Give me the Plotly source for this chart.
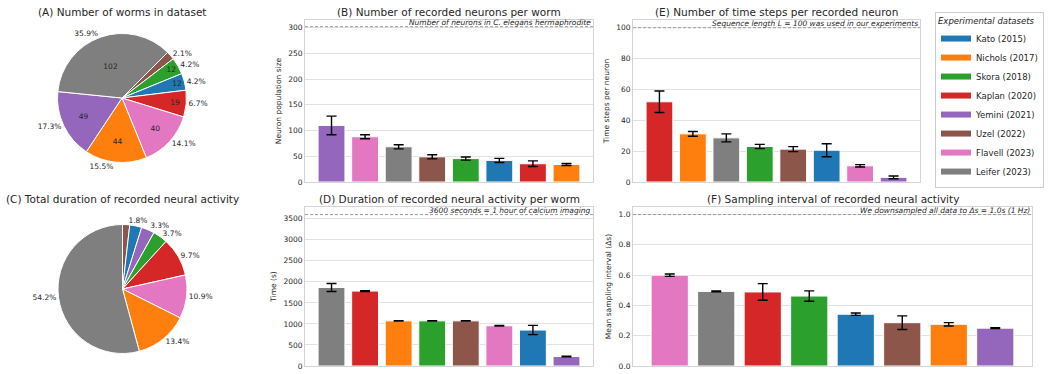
import plotly.graph_objects as go

# ---- data -------------------------------------------------------------
datasets = ["Kato (2015)", "Nichols (2017)", "Skora (2018)", "Kaplan (2020)",
            "Yemini (2021)", "Uzel (2022)", "Flavell (2023)", "Leifer (2023)"]
palette = ["#1f77b4", "#ff7f0e", "#2ca02c", "#d62728",
           "#9467bd", "#8c564b", "#e377c2", "#7f7f7f"]

worm_counts = [12, 44, 12, 19, 49, 6, 40, 102]
# share of the total recorded duration (%), per dataset
duration_share_pct = [3.0, 13.4, 3.7, 9.7, 3.3, 1.8, 10.9, 54.2]

neurons_mean = [42, 34, 45.5, 35.5, 110, 49, 88, 68.5]
neurons_err = [4, 2, 3, 5.5, 18, 4, 4, 4]

steps_mean = [20.6, 31.2, 23.0, 52.0, 3.0, 21.3, 10.5, 28.6]
steps_err = [4.2, 1.5, 1.4, 7.0, 0.9, 1.6, 0.75, 2.6]

duration_mean = [855, 1073, 1073, 1781, 225, 1073, 957, 1867]
duration_err = [110, 5, 5, 10, 8, 5, 5, 95]

interval_mean = [0.342, 0.2755, 0.462, 0.489, 0.25, 0.286, 0.60, 0.4925]
interval_err = [0.008, 0.011, 0.034, 0.055, 0.003, 0.045, 0.008, 0.003]

# reference lines and their captions
ref_neurons = 302
ref_steps = 100
ref_seconds = 3600
ref_interval = 1.0

# ---- style ------------------------------------------------------------
FONT = "DejaVu Sans"
TXT = "#262626"
GRID = "#e2e2e2"
EDGE = "#d4d4d4"
W, H = 1048, 374


def px_x(a, b):
    return [a / W, b / W]


def px_y(top, bottom):
    return [1 - bottom / H, 1 - top / H]


def asc_order(vals):
    # smallest first; ties keep dataset order reversed so the descending
    # sequence read counter-clockwise keeps dataset order
    idx = list(range(len(vals)))[::-1]
    return sorted(idx, key=lambda i: vals[i])


def desc_order(vals):
    return sorted(range(len(vals)), key=lambda i: -vals[i])


fig = go.Figure()

# ---- pies (largest slice first, laid out counter-clockwise; drawn here
# as the reversed sequence going clockwise from the start angle) ----------
order_a = asc_order(worm_counts)
total_worms = sum(worm_counts)
count_text = [str(worm_counts[i]) if worm_counts[i] >= 10 else "" for i in order_a]
pct_text_a = [f"{100 * worm_counts[i] / total_worms:.1f}%" for i in order_a]

dom_a = dict(x=px_x(57.5, 186.5), y=px_y(33.5, 162.5))
common_a = dict(values=[worm_counts[i] for i in order_a],
                labels=[datasets[i] for i in order_a],
                sort=False, direction="clockwise", rotation=45,
                domain=dom_a, showlegend=False, hoverinfo="skip")
fig.add_trace(go.Pie(
    marker=dict(colors=[palette[i] for i in order_a], line=dict(color="white", width=1)),
    text=count_text, textinfo="text", textposition="inside",
    insidetextorientation="horizontal",
    insidetextfont=dict(family=FONT, size=7.5, color=TXT),
    **common_a,
))
fig.add_trace(go.Pie(
    marker=dict(colors=["rgba(0,0,0,0)"] * 8, line=dict(width=0)),
    text=pct_text_a, textinfo="text", textposition="outside",
    outsidetextfont=dict(family=FONT, size=7.5, color=TXT),
    **common_a,
))

# duration pie: the narrow slices near the top alternate their labels
# between two layers so neighbouring labels stay at their slices
order_c = asc_order(duration_share_pct)
pct_c = [f"{duration_share_pct[i]:.1f}%" for i in order_c]
upper_layer = {datasets.index("Uzel (2022)"), datasets.index("Skora (2018)")}
text_c_main = ["" if (datasets[i].startswith("Kato") or i in upper_layer) else t
               for i, t in zip(order_c, pct_c)]
text_c_top = [t if i in upper_layer else "" for i, t in zip(order_c, pct_c)]
dom_c = dict(x=px_x(58, 187), y=px_y(224.5, 353.5))
common_c = dict(values=[duration_share_pct[i] for i in order_c],
                labels=[datasets[i] for i in order_c],
                sort=False, direction="clockwise", rotation=0,
                domain=dom_c, showlegend=False, hoverinfo="skip",
                textinfo="text", textposition="outside",
                outsidetextfont=dict(family=FONT, size=7.5, color=TXT))
fig.add_trace(go.Pie(
    marker=dict(colors=[palette[i] for i in order_c], line=dict(color="white", width=1)),
    text=text_c_main, **common_c,
))
fig.add_trace(go.Pie(
    marker=dict(colors=["rgba(0,0,0,0)"] * 8, line=dict(width=0)),
    text=text_c_top, **common_c,
))

# ---- bar panels -------------------------------------------------------
panels = [
    # axis suffix, values, errors, y range, dtick, title, y label, ref value, caption, x px, y px
    ("", neurons_mean, neurons_err, [0, 315], 50,
     "(B) Number of recorded neurons per worm", "Neuron population size",
     ref_neurons, "Number of neurons in C. elegans hermaphrodite", (305, 593), (20, 182)),
    ("2", steps_mean, steps_err, [0, 105], 20,
     "(E) Number of time steps per recorded neuron", "Time steps per neuron",
     ref_steps, "Sequence length L = 100 was used in our experiments", (633, 920), (20, 182)),
    ("3", duration_mean, duration_err, [0, 3780], 500,
     "(D) Duration of recorded neural activity per worm", "Time (s)",
     ref_seconds, "3600 seconds = 1 hour of calcium imaging", (305, 593), (207, 366)),
    ("4", interval_mean, interval_err, [0, 1.05], 0.2,
     "(F) Sampling interval of recorded neural activity", "Mean sampling interval (Δs)",
     ref_interval, "We downsampled all data to Δs = 1.0s (1 Hz)", (633, 1032), (207, 366)),
]

for suf, vals, errs, yr, dt, title, ylab, ref, caption, xpx, ypx in panels:
    order = desc_order(vals)
    fig.add_trace(go.Bar(
        x=list(range(len(order))),
        y=[vals[i] for i in order],
        width=0.8,
        marker=dict(color=[palette[i] for i in order], line=dict(color="white", width=1)),
        error_y=dict(type="data", array=[errs[i] for i in order],
                     color="black", thickness=1.4, width=5),
        xaxis="x" + suf, yaxis="y" + suf,
        showlegend=False, hoverinfo="skip",
    ))
    fig.update_layout({
        "xaxis" + suf: dict(
            domain=px_x(*xpx), range=[-0.79, 7.79], anchor="y" + suf,
            showticklabels=False, showgrid=False, zeroline=False, ticks="",
            showline=True, mirror=True, linecolor=EDGE, linewidth=1,
        ),
        "yaxis" + suf: dict(
            domain=px_y(*ypx), range=yr, dtick=dt, anchor="x" + suf,
            showgrid=True, gridcolor=GRID, gridwidth=1, zeroline=False,
            showline=True, mirror=True, linecolor=EDGE, linewidth=1, ticks="",
            tickfont=dict(family=FONT, size=7.5, color=TXT),
            ticklabeloverflow="allow",
            title=dict(text=ylab, font=dict(family=FONT, size=7.5, color=TXT), standoff=5),
            tickformat=".1f" if dt < 1 else "d",
        ),
    })
    xa = "x" + suf if suf else "x"
    ya = "y" + suf if suf else "y"
    fig.add_shape(type="line", xref=xa + " domain", yref=ya, x0=0, x1=1, y0=ref, y1=ref,
                  line=dict(color="#9a9a9a", width=1, dash="3px,2px"))
    fig.add_annotation(xref=xa + " domain", yref=ya, x=1, y=ref, text="<i>" + caption + "</i>",
                       showarrow=False, xanchor="right", yanchor="bottom", yshift=-2,
                       font=dict(family=FONT, size=7.5, color=TXT))
    fig.add_annotation(xref=xa + " domain", yref=ya + " domain", x=0.5, y=1, text=title,
                       showarrow=False, xanchor="center", yanchor="bottom", yshift=0,
                       font=dict(family=FONT, size=10.5, color=TXT))

# pie titles
fig.add_annotation(xref="paper", yref="paper", x=122 / W, y=1 - 12 / H,
                   text="(A) Number of worms in dataset", showarrow=False,
                   xanchor="center", yanchor="middle",
                   font=dict(family=FONT, size=10.5, color=TXT))
fig.add_annotation(xref="paper", yref="paper", x=122.5 / W, y=1 - 199 / H,
                   text="(C) Total duration of recorded neural activity", showarrow=False,
                   xanchor="center", yanchor="middle",
                   font=dict(family=FONT, size=10.5, color=TXT))

# legend entries
for name, col in zip(datasets, palette):
    fig.add_trace(go.Scatter(x=[None], y=[None], mode="lines", name=name,
                             line=dict(color=col, width=6), xaxis="x", yaxis="y"))

fig.update_layout(
    width=W, height=H,
    margin=dict(l=0, r=0, t=0, b=0, autoexpand=False),
    paper_bgcolor="white", plot_bgcolor="white",
    font=dict(family=FONT, color=TXT),
    barmode="overlay",
    legend=dict(
        x=935 / W, xanchor="left", y=1 - 100 / H, yanchor="middle",
        bgcolor="white", bordercolor="#cccccc", borderwidth=1,
        font=dict(family=FONT, size=8.5, color=TXT),
        title=dict(text="<i>Experimental datasets</i>", font=dict(family=FONT, size=8.5, color=TXT)),
        itemclick=False, itemdoubleclick=False,
    ),
)

fig.write_html("out.html")
